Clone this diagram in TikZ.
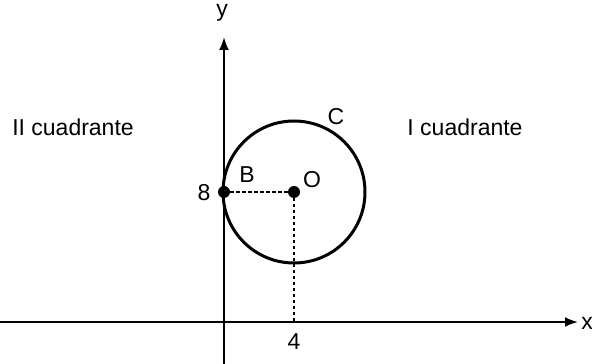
\documentclass[tikz,border=0pt]{standalone}
\usepackage{fontspec}
\setmainfont{Liberation Sans}
\usepackage{tikz}
\usetikzlibrary{arrows.meta,positioning}

\begin{document}
\begin{tikzpicture}[
  x=1pt, y=1pt,
  axis/.style={line width=2pt, -{Latex[length=13pt,width=10pt]}},
  curve/.style={line width=3pt},
  guide/.style={line width=1.2pt, dash pattern=on 3.5pt off 2.5pt},
  dot/.style={circle, fill=black, inner sep=0pt, minimum size=12pt},
  lbl/.style={font=\fontsize{23}{26}\selectfont, inner sep=1pt}
]
\useasboundingbox (0,0) rectangle (592,364);
% axes
\coordinate (xs) at (0,42);
\coordinate (xe) at (578,42);
\coordinate (ys) at (224,0);
\coordinate (ye) at (224,327);
\draw[axis] (xs) -- (xe);
\draw[axis] (ys) -- (ye);
\node[lbl] (xl) at (587,41) {x};
\node[lbl] (yl) at (222,351) {y};
% circle C
\coordinate (O) at (294,172);
\coordinate (B) at (224,172);
\coordinate (P4) at (294,42);
\draw[curve] (O) circle[radius=71];
\draw[guide] (B) -- (O);
\draw[guide] (O) -- (P4);
\node[dot] (dB) at (B) {};
\node[dot] (dO) at (O) {};
\node[lbl] (lC) at (336,247) {C};
\node[lbl] (lO) at (312,184) {O};
\node[lbl] (lB) at (247,189) {B};
\node[lbl] (l8) at (204,171) {8};
\node[lbl] (l4) at (294,22) {4};
% quadrants
\node[lbl] (q2) at (73,237) {II cuadrante};
\node[lbl] (q1) at (465,237) {I cuadrante};
\end{tikzpicture}
\end{document}
